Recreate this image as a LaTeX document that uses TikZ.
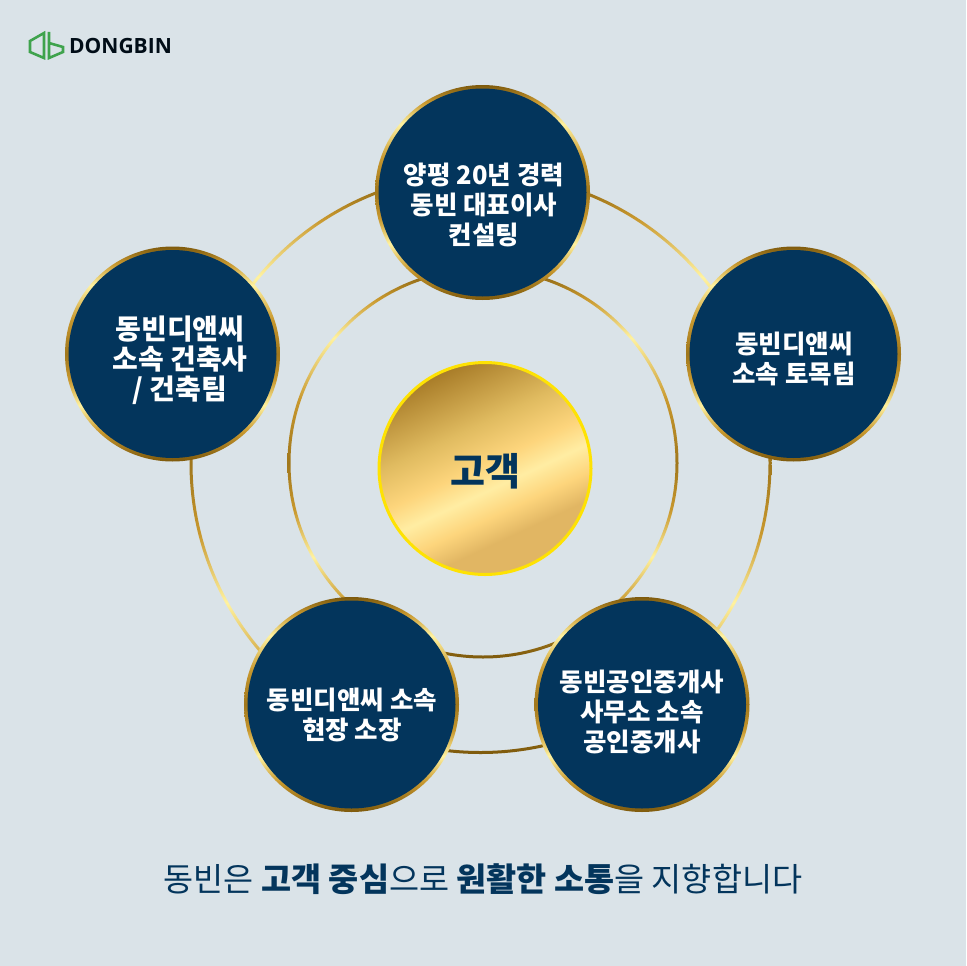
\documentclass[tikz,border=0pt]{standalone}
\usepackage{fontspec}
\setmainfont{Noto Sans CJK KR}
\newfontfamily\logofont{Open Sans}
\newfontfamily\grasfont{Noto Sans CJK KR Black}
\usepackage{tikz}
\definecolor{fond}{HTML}{DAE3E8}
\definecolor{marine}{HTML}{03355C}
\definecolor{vertlogo}{HTML}{3FA34D}
\definecolor{or1}{HTML}{7E5A0C}
\definecolor{or2}{HTML}{C8982E}
\definecolor{or3}{HTML}{FFF2A0}
\definecolor{or4}{HTML}{A0771C}
\definecolor{disque1}{HTML}{A87C28}
\definecolor{disque2}{HTML}{E0BB60}
\definecolor{disque3}{HTML}{FDD57C}
\definecolor{disque4}{HTML}{FFEDA3}
\definecolor{disque5}{HTML}{E1B663}
\pgfdeclareverticalshading{anneauor}{100bp}{
  color(0bp)=(or1); color(25bp)=(or1); color(32bp)=(or2); color(38bp)=(or3);
  color(44bp)=(or2); color(50bp)=(or4); color(58bp)=(or2); color(66bp)=(or3);
  color(71bp)=(or2); color(75bp)=(or1); color(100bp)=(or1)}
\pgfdeclareverticalshading{disqueor}{100bp}{
  color(0bp)=(disque5); color(33bp)=(disque5); color(39bp)=(disque3); color(45bp)=(disque4);
  color(51bp)=(disque3); color(60bp)=(disque2); color(75bp)=(disque1); color(100bp)=(disque1)}
\begin{document}
\begin{tikzpicture}[x=1pt, y=-1pt]
\tikzset{equipe/.style={circle, minimum size=215pt, inner sep=0pt, outer sep=0pt, shading=anneauor,
    path picture={\fill[marine] (path picture bounding box.center) circle (104);}}}
\tikzset{texte/.style={text=white, align=center, inner sep=0pt, font=\bfseries\fontsize{25.5}{30}\selectfont}}
\tikzset{anneau/.style={even odd rule, shading=anneauor}}
\fill[fond] (0,0) rectangle (966,966);
\useasboundingbox (0,0) rectangle (966,966);
% anneaux
\path[anneau] (480.5,463) circle (291) (480.5,463) circle (288);
\path[anneau] (483,463) circle (195.5) (483,463) circle (192.5);
% logo
\draw[vertlogo, line width=2.6pt, line join=miter] (44,33) -- (44,58) -- (30,52) -- (30,41) -- cycle;
\draw[vertlogo, line width=2.6pt, line join=miter] (49,32) -- (49,58) -- (63,52) -- (63,47) -- (49,43);
\node[anchor=west, inner sep=0pt, text=black!75!marine, font=\logofont\bfseries\fontsize{21}{24}\selectfont] (L0) at (69,45.5) {DONGBIN};
% centre
\node[circle, minimum size=212pt, inner sep=0pt, outer sep=0pt, draw=yellow!85!orange, line width=3pt, shading=disqueor, shading angle=25] (C0) at (485,468.5) {};
\node[text=marine, inner sep=0pt, font=\grasfont\fontsize{38}{40}\selectfont] (C1) at (485,471) {고객};
% cinq equipes
\node[equipe] (V1) at (482.5,192.5) {};
\node[equipe] (V2) at (793.5,354) {};
\node[equipe] (V3) at (642,704.5) {};
\node[equipe] (V4) at (351.5,704.5) {};
\node[equipe] (V5) at (172.5,354) {};
\node[texte] (E1) at (484,205) {양평 20년 경력\\동빈 대표이사\\컨설팅};
\node[texte] (E2) at (794,359) {동빈디앤씨\\소속 토목팀};
\node[texte] (E3) at (642,712) {동빈공인중개사\\사무소 소속\\공인중개사};
\node[texte] (E4) at (352,715) {동빈디앤씨 소속\\현장 소장};
\node[texte, font=\bfseries\fontsize{28}{30}\selectfont] (E5) at (180,360) {동빈디앤씨\\소속 건축사\\/ 건축팀};
% phrase du bas
\node[text=marine, inner sep=0pt, font=\fontsize{32.7}{36}\selectfont] (T0) at (483,879) {동빈은 \textbf{고객 중심}으로 \textbf{원활한 소통}을 지향합니다};
\end{tikzpicture}
\end{document}
